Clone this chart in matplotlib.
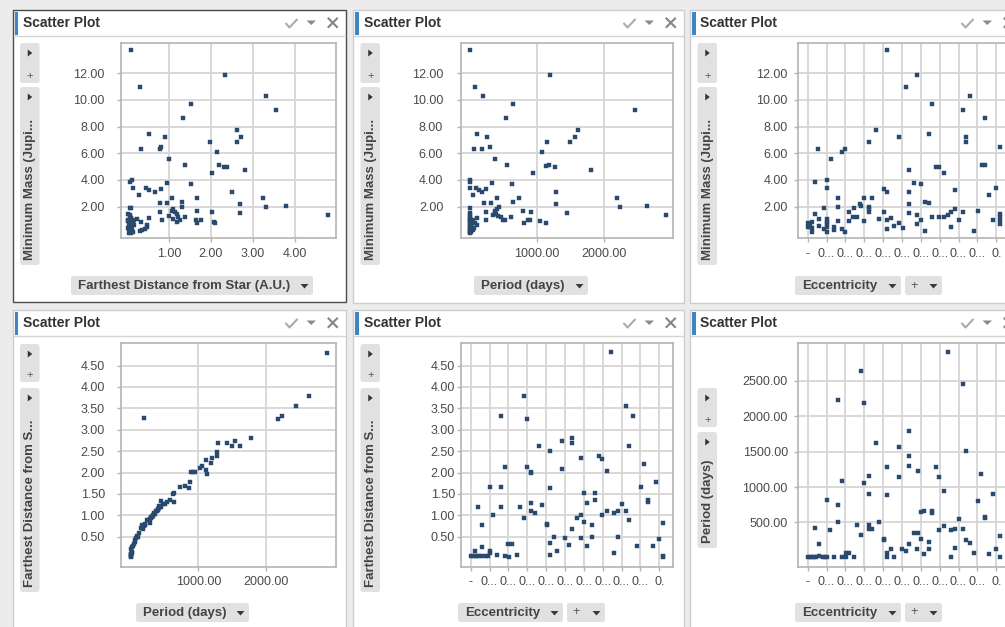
import matplotlib
matplotlib.use("Agg")
import matplotlib.pyplot as plt
from matplotlib.patches import Rectangle, FancyBboxPatch, Polygon
from matplotlib.ticker import FormatStrFormatter

plt.rcParams['font.family'] = ['Liberation Sans', 'DejaVu Sans']

# ---- values ----
# panel 1: farthest distance from star (A.U.) vs minimum mass (Jupiter)
dist_a = [0.085, 2.33, 0.31, 3.31, 1.53, 3.56, 1.34, 0.51, 0.90, 2.62,
          2.72, 2.62, 1.98, 0.34, 0.78, 0.81, 2.14, 1.00, 1.37, 2.19,
          2.30, 2.39, 2.81, 2.03, 0.07, 0.12, 0.95, 1.53, 0.15, 0.45,
          0.51, 0.81, 0.67, 0.28, 2.50, 3.25, 1.06, 1.67, 1.32, 0.78,
          0.95, 1.31, 2.70, 3.31, 3.78, 0.07, 0.10, 0.78, 1.07, 1.10,
          1.14, 1.67, 2.03, 2.70, 4.80, 0.51, 1.00, 1.18, 1.21, 1.37,
          0.84, 1.09, 1.25, 1.20, 1.64, 1.67, 1.77, 2.08, 2.10, 0.24,
          0.34, 0.48, 0.48, 0.30, 0.36, 0.42,
          0.02, 0.06, 0.10, 0.02, 0.085, 0.14, 0.045, 0.10, 0.16, 0.02,
          0.085, 0.14, 0.04, 0.10, 0.06, 0.16, 0.06, 0.03, 0.05, 0.12]
mass_a = [13.75, 11.88, 10.98, 10.33, 9.73, 9.25, 8.63, 7.45, 7.20, 7.73,
          7.20, 6.83, 6.83, 6.30, 6.30, 6.48, 6.13, 5.58, 5.13, 5.13,
          5.00, 4.95, 4.78, 4.50, 3.88, 4.03, 3.78, 3.70, 3.43, 3.43,
          3.28, 3.33, 3.08, 2.88, 3.08, 2.63, 2.63, 2.63, 2.33, 2.25,
          2.25, 2.00, 2.18, 2.00, 2.08, 1.90, 1.90, 1.60, 1.70, 1.80,
          1.63, 1.70, 1.60, 1.53, 1.35, 1.18, 1.30, 1.43, 1.25, 1.25,
          1.00, 1.05, 1.00, 0.88, 1.00, 0.80, 1.00, 0.88, 0.80, 1.08,
          0.88, 0.63, 0.45, 0.18, 0.25, 0.30,
          1.45, 1.25, 1.13, 1.00, 0.88, 0.80, 0.63, 0.50, 0.60, 0.38,
          0.25, 0.13, 0.05, 0.05, 0.70, 1.00, 1.35, 0.95, 0.30, 0.30]

# panel 2: period (days) vs minimum mass
period_b = [5, 1204, 80, 199, 652, 2473, 547, 114, 254, 1622,
            1567, 1502, 1154, 60, 179, 303, 1085, 373, 562, 1134,
            1189, 1274, 1811, 945, 5, 10, 632, 10, 100, 144,
            184, 249, 45, 338, 1289, 2194, 736, 408, 214, 318,
            652, 1284, 2244, 2642, 5, 249, 383, 408, 443, 373,
            348, 398, 423, 473, 498, 522, 612, 791, 911, 1448,
            2925, 109, 249, 811, 871, 896, 1045, 1134, 50, 75,
            109, 25, 65, 45, 15,
            4, 8, 3, 12, 5, 9, 4, 15, 6, 3, 10, 20, 5, 12, 3, 8, 18, 25]
mass_b = [13.75, 11.88, 10.98, 10.33, 9.73, 9.25, 8.63, 7.45, 7.20, 7.73,
          7.20, 6.83, 6.83, 6.30, 6.30, 6.48, 6.13, 5.58, 5.13, 5.05,
          5.13, 4.95, 4.78, 4.50, 3.88, 4.03, 3.70, 3.43, 3.43, 3.28,
          3.08, 3.33, 2.88, 3.78, 3.08, 2.63, 2.63, 2.63, 2.25, 2.25,
          2.33, 2.18, 2.00, 2.08, 1.90, 1.60, 1.70, 1.80, 2.00, 1.50,
          1.38, 1.45, 1.33, 1.25, 1.00, 1.00, 1.25, 1.70, 1.60, 1.53,
          1.35, 1.18, 1.00, 0.80, 1.00, 1.00, 0.90, 0.80, 1.00, 0.80,
          0.63, 0.50, 0.38, 0.25, 0.13,
          1.5, 1.35, 1.2, 1.1, 1.0, 0.9, 0.75, 0.7, 0.6, 0.45, 0.4, 0.3,
          0.2, 0.15, 0.1, 0.05, 0.55, 0.85]

# panel 3: eccentricity (category position) vs minimum mass
ecc_c = [42.2, 58.1, 52.1, 85.9, 66.1, 82.2, 93.8, 36.0, 48.4, 64.3,
         83.9, 83.9, 32.3, 101.9, 5.7, 18.2, 20.0, 12.2, 53.9, 68.2,
         69.8, 72.4, 92.2, 94.0, 4.1, 10.2, 10.2, 56.4, 60.1, 40.3,
         42.2, 53.9, 77.9, 100, 96.3, 16.3, 30.0, 34.3, 53.9, 62.0,
         64.3, 8.5, 16.3, 24.6, 27.9, 28.1, 32.3, 32.3, 32.3, 21.7,
         24.2, 26.0, 16.1, 3.9, 5.8, 5.8, 10.2, 10.2, 10.2, 10.2,
         10.2, 8.5, 13.8, 13.8, 18.0, 20.0, 21.9, 29.9, 37.9, 40.3,
         42.0, 44.0, 42.0, 45.8, 48.4, 50.4, 53.9, 57.9, 60.1, 58.1,
         62.0, 66.1, 69.8, 72.4, 74.2, 76.0, 77.9, 76.1, 80.4, 82.2,
         88.3, 90.1, 98.2, 101.8, 101.8, 101.8, 101.8, 0, 0, 1.2,
         2.1, 2.1, 2.1, 1.2]
mass_c = [13.75, 11.88, 10.98, 10.33, 9.73, 9.25, 8.63, 7.73, 7.2, 7.45,
          7.2, 6.83, 6.83, 6.48, 6.3, 6.13, 6.3, 5.58, 4.78, 4.95,
          5.0, 4.5, 5.13, 5.13, 3.88, 4.03, 3.43, 3.78, 3.7, 3.33,
          3.08, 3.08, 3.25, 3.43, 2.88, 2.63, 2.63, 2.63, 2.18, 2.35,
          2.25, 1.88, 2.0, 1.88, 2.2, 2.08, 2.0, 1.8, 1.6, 1.6,
          1.25, 1.25, 0.9, 1.45, 1.08, 0.58, 1.08, 0.88, 0.68, 0.45,
          0.13, 0.3, 0.45, 0.25, 0.3, 0.13, 0.9, 0.9, 1.08, 1.6,
          1.0, 1.18, 0.3, 0.58, 0.8, 0.38, 1.53, 1.35, 1.0, 0.68,
          0.18, 1.25, 1.25, 1.25, 1.35, 1.6, 1.8, 0.45, 1.0, 1.6,
          0.18, 1.7, 1.0, 1.45, 1.25, 1.0, 0.68, 0.75, 0.45, 0.63,
          0.88, 0.38, 0.13, 0.5]

# panel 4: period (days) vs farthest distance
period_d = [2911, 2639, 2446, 2188, 2238, 188, 1787, 1292, 1426, 1495,
            1549, 1619, 1272, 1272, 1208, 1188, 1119, 1025, 1059, 1119,
            1134, 886, 921, 955, 876, 861, 802, 723, 629, 634,
            634, 574, 540, 500, 450, 475, 440, 401, 386, 366,
            351, 327, 302, 277, 277, 243, 203, 163, 178, 104,
            79, 54, 30, 5,
            420, 410, 395, 345, 330, 315, 290, 265, 215, 190, 150, 120,
            95, 65, 45, 20, 12, 8, 6, 5, 4, 3, 3]
dist_d = [4.80, 3.79, 3.56, 3.25, 3.31, 3.28, 2.81, 2.70, 2.70, 2.62,
          2.73, 2.62, 2.49, 2.39, 2.35, 2.22, 2.30, 2.11, 2.15, 2.07,
          1.96, 2.02, 2.02, 2.02, 1.77, 1.63, 1.69, 1.66, 1.51, 1.52,
          1.31, 1.35, 1.31, 1.26, 1.33, 1.27, 1.19, 1.15, 1.11, 1.10,
          1.03, 0.99, 0.95, 0.91, 0.81, 0.88, 0.78, 0.77, 0.68, 0.50,
          0.47, 0.37, 0.29, 0.21,
          1.22, 1.17, 1.13, 1.05, 1.01, 0.97, 0.93, 0.88, 0.80, 0.76, 0.70, 0.58,
          0.52, 0.42, 0.34, 0.25, 0.15, 0.13, 0.10, 0.09, 0.06, 0.05, 0.03]

# panel 5: eccentricity vs farthest distance
ecc_e = [74.2, 82.2, 85.9, 16.3, 28.1, 29.9, 83.9, 36.0, 53.9, 53.9,
         48.4, 42.2, 58.3, 68.0, 69.8, 48.4, 29.9, 32.2, 32.2, 72.4,
         92.0, 18.2, 10.1, 16.3, 42.2, 90.3, 98.2, 4.1, 16.3, 26.1,
         32.2, 38.0, 32.2, 34.3, 28.1, 12.0, 5.8, 60.1, 66.1, 61.8,
         66.1, 69.8, 72.4, 76.1, 78.1, 80.2, 82.2, 84.1, 94.0, 94.0,
         101.8, 40.3, 40.3, 56.4, 58.3, 60.1, 64.3, 53.9, 44.0, 42.2,
         50.2, 58.3, 64.3, 52.1, 45.8, 42.2, 61.8, 78.1, 76.1, 88.3,
         96.5, 100.0, 101.8, 101.8, 20.0, 22.1, 5.8, 2.1, 10.1, 10.1,
         24.4, 14.0, 18.2, 20.1, 0, 1.2, 2.5, 3.5, 4.6, 5.8,
         8.1, 9.2]
dist_e = [4.81, 3.56, 3.31, 3.31, 3.78, 3.25, 2.62, 2.62, 2.81, 2.70,
          2.73, 2.50, 2.34, 2.39, 2.31, 2.09, 2.12, 2.02, 1.99, 2.03,
          2.20, 2.14, 1.67, 1.67, 1.65, 1.67, 1.78, 1.20, 1.20, 1.20,
          1.30, 1.25, 1.10, 1.06, 0.94, 1.00, 0.78, 1.52, 1.52, 1.30,
          1.36, 1.00, 1.11, 1.06, 1.11, 1.27, 1.11, 0.89, 1.35, 1.31,
          0.81, 0.80, 0.78, 0.94, 1.00, 0.84, 0.78, 0.67, 0.50, 0.36,
          0.47, 0.47, 0.50, 0.31, 0.17, 0.08, 0.28, 0.50, 0.11, 0.28,
          0.28, 0.45, 0.05, 0.02, 0.34, 0.34, 0.25, 0.17, 0.16, 0.11,
          0.08, 0.07, 0.05, 0.03, 0.05, 0.05, 0.05, 0.05, 0.05, 0.05,
          0.05, 0.05]

# panel 6: eccentricity vs period (days)
ecc_f = [74.2, 82.2, 28.1, 16.3, 29.9, 53.9, 36.0, 48.4, 83.9, 53.9,
         53.9, 58.3, 68.0, 69.8, 42.2, 48.4, 32.3, 29.9, 18.2, 72.4,
         92.0, 10.1, 32.3, 42.2, 90.3, 98.2, 16.3, 4.1, 12.0, 16.3,
         26.1, 28.1, 32.3, 32.3, 34.3, 37.9, 40.3, 40.3, 60.1, 61.8,
         66.1, 66.1, 69.8, 72.4, 76.1, 78.1, 80.4, 82.2, 84.1, 85.9,
         94.0, 94.0, 101.8, 56.4, 58.3, 60.1, 53.9, 64.3, 64.3, 61.8,
         58.1, 50.2, 52.1, 44.0, 42.2, 42.2, 45.8, 78.1, 76.1, 88.3,
         96.3, 100.0, 101.8, 20.1, 22.0, 5.8, 0, 1.2, 2.1, 3.5,
         4.6, 5.8, 8.1, 9.2, 10.1, 14.0, 18.2, 20.1, 24.4]
period_f = [2915, 2458, 2642, 2236, 2189, 1797, 1627, 1561, 1509, 1439,
            1302, 1222, 1288, 1141, 1288, 1141, 1151, 1052, 1090, 948,
            1184, 816, 901, 882, 797, 901, 750, 425, 392, 505,
            458, 325, 458, 410, 410, 505, 259, 250, 646, 660,
            665, 627, 392, 443, 392, 410, 542, 410, 255, 203,
            580, 561, 307, 344, 344, 269, 189, 222, 118, 52,
            118, 118, 90, 118, 71, 5, 14, 137, 14, 71,
            52, 118, 5, 71, 71, 189, 5, 5, 10, 10,
            10, 18, 5, 5, 10, 5, 5, 5, 5]

mass_ticks = [2, 4, 6, 8, 10, 12]
dist_ticks = [0.5, 1, 1.5, 2, 2.5, 3, 3.5, 4, 4.5]
period_ticks = [500, 1000, 1500, 2000, 2500]
ecc_ticks = [0, 10, 20, 30, 40, 50, 60, 70, 80, 90, 100]
ecc_labels = ['-', '0...', '0...', '0...', '0...', '0...', '0...', '0...', '0...', '0...', '0.']

W, H = 1005, 627
DOT = '#294a6d'
BTN = '#e1e1e1'
TXT = '#444444'

fig = plt.figure(figsize=(W / 100, H / 100), dpi=100)
fig.patch.set_facecolor('#ececec')

# canvas in pixel units for the panel chrome
bg = fig.add_axes([0, 0, 1, 1], zorder=-1)
bg.set_xlim(0, W)
bg.set_ylim(H, 0)
bg.axis('off')


def tri_right(x, y):
    bg.add_patch(Polygon([(x - 2, y - 3.5), (x - 2, y + 3.5), (x + 2.5, y)], fc='#333333', ec='none'))


def tri_down(x, y):
    bg.add_patch(Polygon([(x - 4, y - 2), (x + 4, y - 2), (x, y + 2.5)], fc='#3a3a3a', ec='none'))


def panel(L, T, R, B, selected=False):
    bg.add_patch(Rectangle((L, T), R - L, B - T, fc='white',
                           ec='#4a4a4a' if selected else '#cdcdcd', lw=1.0))
    bg.plot([L + 1, R - 1], [T + 26, T + 26], color='#d4d4d4', lw=1)
    bg.add_patch(Rectangle((L + 2, T + 1.5), 3.5, 23.5, fc='#3f84c5', ec='none'))
    bg.text(L + 10.5, T + 13, 'Scatter Plot', fontsize=10, fontweight='bold',
            color='#333333', ha='left', va='center')
    # check, menu arrow, close
    bg.plot([R - 60, R - 56.5, R - 49], [T + 13.5, T + 17.5, T + 9.5],
            color='#ababab', lw=1.5, solid_capstyle='round')
    bg.add_patch(Polygon([(R - 39.5, T + 10.5), (R - 30, T + 10.5), (R - 34.75, T + 15)],
                         fc='#8a8a8a', ec='none'))
    bg.plot([R - 17.5, R - 9], [T + 8.5, T + 17], color='#858585', lw=1.5)
    bg.plot([R - 17.5, R - 9], [T + 17, T + 8.5], color='#858585', lw=1.5)


def side_buttons(L, b1, b2, label):
    x0, x1 = L + 7.5, L + 27
    xc = (x0 + x1) / 2
    for top, bot in (b1, b2):
        bg.add_patch(FancyBboxPatch((x0, top), x1 - x0, bot - top,
                                    boxstyle='round,pad=0,rounding_size=2.5', fc=BTN, ec='none'))
        tri_right(xc, top + 10)
    bg.text(xc, b1[1] - 7, '+', fontsize=8, color='#555555', ha='center', va='center')
    bg.text(xc + 0.5, b2[1] - 5, label, rotation=90, fontsize=9.5, fontweight='bold',
            color=TXT, ha='center', va='bottom')


def label_button(x0, x1, y0, text):
    bg.add_patch(FancyBboxPatch((x0, y0), x1 - x0, 19,
                                boxstyle='round,pad=0,rounding_size=2.5', fc=BTN, ec='none'))
    if text == '+':
        bg.text(x0 + 9, y0 + 9.5, '+', fontsize=9, color='#555555', ha='center', va='center')
    else:
        bg.text(x0 + 7, y0 + 10, text, fontsize=9.5, fontweight='bold', color=TXT,
                ha='left', va='center')
    tri_down(x1 - 8.5, y0 + 10)


def scatter_axes(left, top, right, bottom, xs, ys, xlim, ylim, xticks, yticks, ypad, xlabels=None):
    ax = fig.add_axes([left / W, 1 - bottom / H, (right - left) / W, (bottom - top) / H])
    ax.scatter(xs, ys, s=7.5, marker='s', color=DOT, linewidths=0.3, edgecolors=DOT, zorder=3)
    ax.set_xlim(xlim)
    ax.set_ylim(ylim)
    ax.set_xticks(xticks)
    ax.set_yticks(yticks)
    ax.yaxis.set_major_formatter(FormatStrFormatter('%.2f'))
    if xlabels:
        ax.set_xticklabels(xlabels)
    else:
        ax.xaxis.set_major_formatter(FormatStrFormatter('%.2f'))
    ax.grid(True, color='#d6d6d6', lw=1.3)
    ax.set_axisbelow(True)
    for sp in ax.spines.values():
        sp.set_color('#b4b4b4')
        sp.set_linewidth(1.2)
    ax.tick_params(direction='out', length=3, width=1, color='#b4b4b4',
                   labelsize=9, labelcolor='#4a4a4a')
    ax.tick_params(axis='y', pad=ypad)
    ax.tick_params(axis='x', pad=4)
    return ax


# panel frames
panel(12.5, 10, 346, 302, selected=True)
panel(353, 10, 684, 303)
panel(690, 10, 1022, 303)
panel(12.5, 310, 346, 640)
panel(353, 310, 684, 640)
panel(690, 310, 1022, 640)

# y-axis buttons
side_buttons(12.5, (43, 83), (87, 265), 'Minimum Mass (Jupi...')
side_buttons(353, (43, 83), (87, 265), 'Minimum Mass (Jupi...')
side_buttons(690, (43, 83), (87, 265), 'Minimum Mass (Jupi...')
side_buttons(12.5, (344, 382), (388, 592), 'Farthest Distance from S...')
side_buttons(353, (344, 382), (388, 592), 'Farthest Distance from S...')
side_buttons(690, (388, 427), (432, 548), 'Period (days)')

# x-axis buttons
label_button(71, 313, 276, 'Farthest Distance from Star (A.U.)')
label_button(474, 588, 276, 'Period (days)')
label_button(795, 901, 276, 'Eccentricity')
label_button(905, 942, 276, '+')
label_button(136, 249, 603, 'Period (days)')
label_button(458, 563, 603, 'Eccentricity')
label_button(567, 605, 603, '+')
label_button(795, 901, 603, 'Eccentricity')
label_button(905, 942, 603, '+')

ecc_lim = (-5.3, 107.3)
scatter_axes(120.7, 43.3, 336.3, 238.3, dist_a, mass_a, (-0.154, 4.99), (-0.375, 14.25),
             [1, 2, 3, 4], mass_ticks, 8.4)
scatter_axes(460.7, 43.3, 673, 238.3, period_b, mass_b, (-134, 3035), (-0.375, 14.25),
             [1000, 2000], mass_ticks, 9.6)
scatter_axes(797.7, 43.3, 1010, 238.3, ecc_c, mass_c, ecc_lim, (-0.375, 14.25),
             ecc_ticks, mass_ticks, 4.1, ecc_labels)
scatter_axes(120.7, 343.3, 336.3, 566.7, period_d, dist_d, (-153, 3050), (-0.2, 5.02),
             [1000, 2000], dist_ticks, 8.4)
scatter_axes(460.7, 343.3, 673, 566.7, ecc_e, dist_e, ecc_lim, (-0.2, 5.02),
             ecc_ticks, dist_ticks, 1.2, ecc_labels)
scatter_axes(797.7, 343.3, 1010, 566.7, ecc_f, period_f, ecc_lim, (-127, 3033),
             ecc_ticks, period_ticks, 4.1, ecc_labels)

fig.savefig('out.png', dpi=100, facecolor=fig.get_facecolor())
